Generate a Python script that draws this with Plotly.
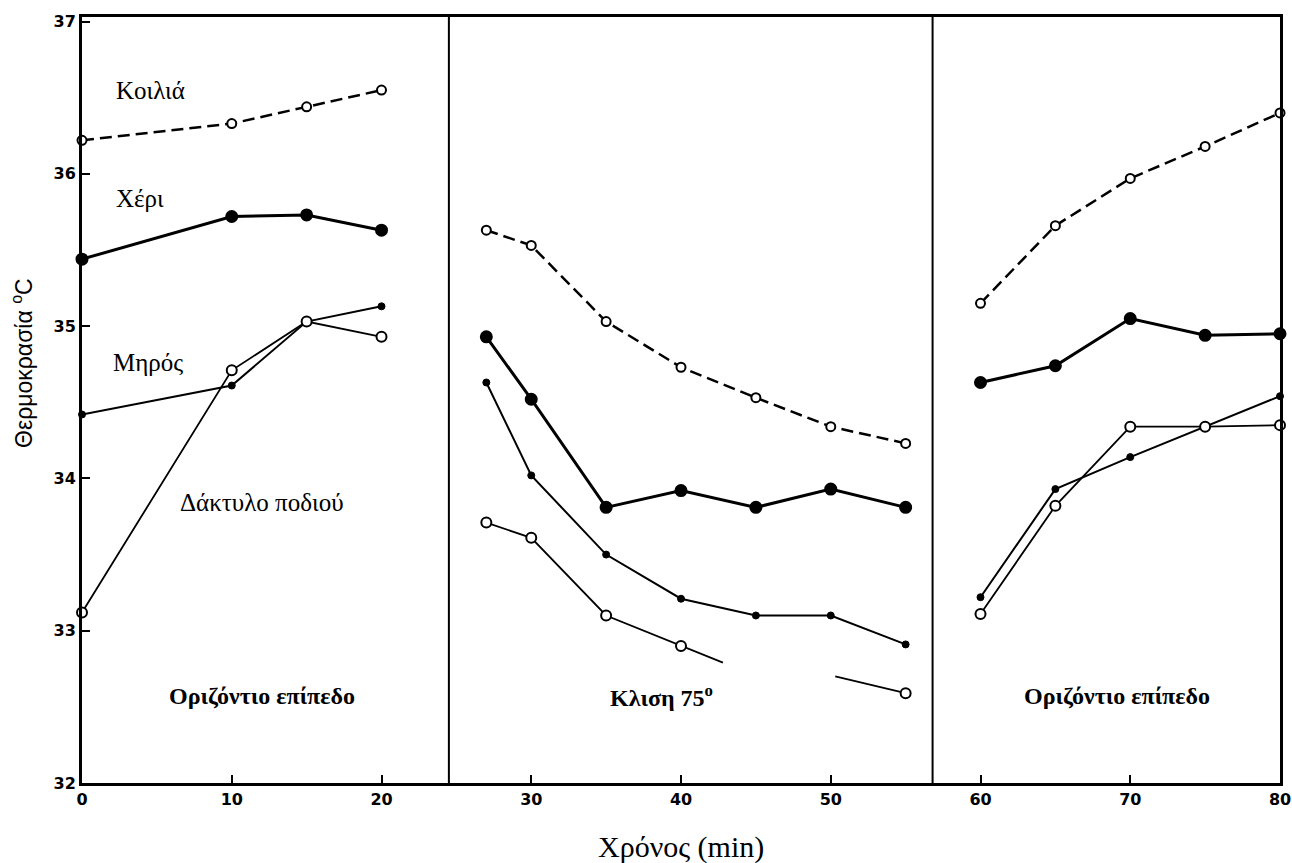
import plotly.graph_objects as go

# Time points (min) for each phase
t_flat1 = [0, 10, 15, 20]
t_tilt = [27, 30, 35, 40, 45, 50, 55]
t_flat2 = [60, 65, 70, 75, 80]

# Κοιλιά (abdomen)
koilia_flat1 = [36.22, 36.33, 36.44, 36.55]
koilia_tilt = [35.63, 35.53, 35.03, 34.73, 34.53, 34.34, 34.23]
koilia_flat2 = [35.15, 35.66, 35.97, 36.18, 36.40]

# Χέρι (hand)
xeri_flat1 = [35.44, 35.72, 35.73, 35.63]
xeri_tilt = [34.93, 34.52, 33.81, 33.92, 33.81, 33.93, 33.81]
xeri_flat2 = [34.63, 34.74, 35.05, 34.94, 34.95]

# Μηρός (thigh)
miros_flat1 = [34.42, 34.61, 35.03, 35.13]
miros_tilt = [34.63, 34.02, 33.50, 33.21, 33.10, 33.10, 32.91]
miros_flat2 = [33.22, 33.93, 34.14, 34.34, 34.54]

# Δάκτυλο ποδιού (toe)
toe_flat1 = [33.12, 34.71, 35.03, 34.93]
toe_tilt_pts_t = [27, 30, 35, 40, 55]
toe_tilt_pts = [33.71, 33.61, 33.10, 32.90, 32.59]
# tilt-phase line is broken between ~43 and ~50 min
toe_tilt_line_t = [27, 30, 35, 40, 42.8, None, 50.3, 55]
toe_tilt_line = [33.71, 33.61, 33.10, 32.90, 32.79, None, 32.70, 32.59]
toe_flat2 = [33.11, 33.82, 34.34, 34.34, 34.35]

y_ticks = [32, 33, 34, 35, 36, 37]
x_ticks = [0, 10, 20, 30, 40, 50, 60, 70, 80]
separators = [24.5, 56.8]

fig = go.Figure()

def add(t, v, dash, lw, msize, filled, mlw=2, mode="lines+markers"):
    fig.add_trace(go.Scatter(
        x=t, y=v, mode=mode,
        line=dict(color="black", width=lw, dash=dash),
        marker=dict(symbol="circle", size=msize,
                    color="black" if filled else "white",
                    line=dict(color="black", width=mlw)),
        cliponaxis=False, showlegend=False, connectgaps=False))

for t, v in [(t_flat1, koilia_flat1), (t_tilt, koilia_tilt), (t_flat2, koilia_flat2)]:
    add(t, v, "12px,6px", 2.5, 9, False)
for t, v in [(t_flat1, xeri_flat1), (t_tilt, xeri_tilt), (t_flat2, xeri_flat2)]:
    add(t, v, "solid", 3, 11, True)
for t, v in [(t_flat1, miros_flat1), (t_tilt, miros_tilt), (t_flat2, miros_flat2)]:
    add(t, v, "solid", 2, 7, True, 1)
add(t_flat1, toe_flat1, "solid", 1.8, 10, False)
add(toe_tilt_line_t, toe_tilt_line, "solid", 1.8, 10, False, mode="lines")
add(toe_tilt_pts_t, toe_tilt_pts, "solid", 1.8, 10, False, mode="markers")
add(t_flat2, toe_flat2, "solid", 1.8, 10, False)

for s in separators:
    fig.add_shape(type="line", x0=s, x1=s, y0=0, y1=1, yref="paper",
                  line=dict(color="black", width=2))

serif = "Liberation Serif"
labels = [
    (4.6, 36.55, "Κοιλιά"),
    (3.9, 35.84, "Χέρι"),
    (4.4, 34.76, "Μηρός"),
    (12.0, 33.84, "Δάκτυλο ποδιού"),
]
for x, y, txt in labels:
    fig.add_annotation(x=x, y=y, text=txt, showarrow=False,
                       font=dict(family=serif, size=25, color="black"))

phase_labels = [
    (12.0, 32.57, "<b>Οριζόντιο επίπεδο</b>"),
    (38.7, 32.57, "<b>Κλιση 75<sup>o</sup></b>"),
    (69.1, 32.57, "<b>Οριζόντιο επίπεδο</b>"),
]
for x, y, txt in phase_labels:
    fig.add_annotation(x=x, y=y, text=txt, showarrow=False,
                       font=dict(family=serif, size=24, color="black"))

fig.add_annotation(x=(22 - 82) / 1198, y=(783 - 363) / 766,
                   xref="paper", yref="paper", xanchor="center",
                   yanchor="middle", text="Θερμοκρασία <sup>o</sup>C",
                   textangle=-90, showarrow=False,
                   font=dict(family="Liberation Sans", size=23, color="black"))

fig.add_annotation(x=0.5, y=-(847 - 783) / 766, xref="paper", yref="paper",
                   text="Χρόνος (min)", showarrow=False,
                   xanchor="center", yanchor="middle",
                   font=dict(family=serif, size=30, color="black"))

tick_font = dict(family="DejaVu Sans", size=16, color="black")
fig.update_layout(
    width=1292, height=863,
    margin=dict(l=82, r=12, t=17, b=80),
    plot_bgcolor="white", paper_bgcolor="white",
    xaxis=dict(range=[0, 80], tickvals=x_ticks,
               ticktext=["<b>%d</b>" % v for v in x_ticks],
               ticks="inside", ticklen=8, tickwidth=2, tickcolor="black",
               showline=True, linewidth=3, linecolor="black", mirror=True,
               showgrid=False, zeroline=False, automargin=False,
               tickfont=tick_font),
    yaxis=dict(range=[32, 37.03], tickvals=y_ticks,
               ticktext=["<b>%d</b>" % v for v in y_ticks],
               ticks="inside", ticklen=8, tickwidth=2, tickcolor="black",
               showline=True, linewidth=3, linecolor="black", mirror=True,
               showgrid=False, zeroline=False, automargin=False,
               tickfont=tick_font),
)

fig.write_html("out.html")
